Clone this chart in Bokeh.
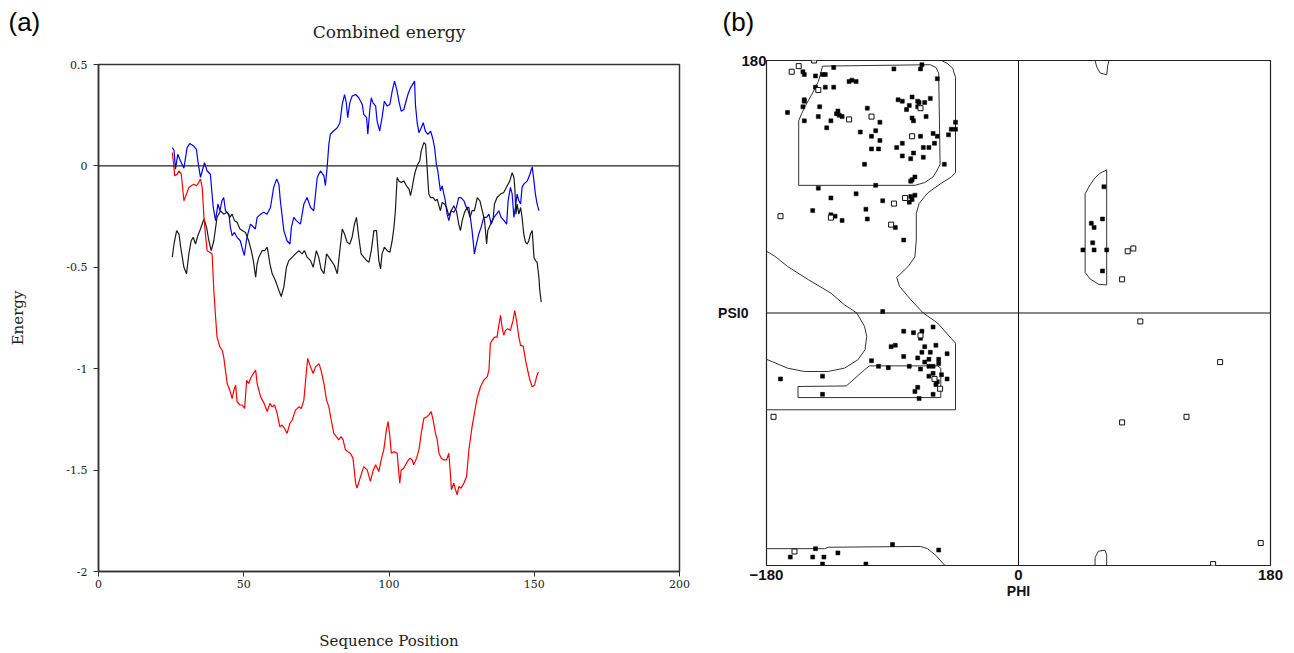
from bokeh.plotting import figure
from bokeh.models import Range1d, Span, Label, FixedTicker
from bokeh.layouts import row, column
from bokeh.embed import file_html
from bokeh.resources import INLINE

# ---------------- Panel (a): Combined energy ----------------
blue_pos = [25.4, 26.0, 26.5, 27.3, 28.2, 29.4, 30.5, 31.4, 32.8, 33.7, 34.2, 35.1, 35.7, 36.5, 37.4, 38.5,
            39.5, 40.3, 41.1, 41.8, 42.5, 43.1, 43.7, 44.9, 45.4, 46.0, 46.8, 47.7, 48.8, 49.4, 50.2, 50.9,
            51.4, 52.3, 52.9, 54.0, 54.6, 55.8, 56.9, 58.0, 59.2, 60.3, 61.3, 62.1, 62.6, 63.8, 64.9, 65.9,
            66.4, 67.2, 68.1, 69.5, 70.7, 71.8, 73.0, 74.1, 75.3, 76.4, 77.6, 78.1, 78.7, 79.3, 79.8, 80.9,
            82.2, 83.1, 83.9, 84.7, 85.3, 85.8, 86.5, 87.3, 88.5, 89.6, 90.8, 91.3, 92.3, 92.7, 93.4, 93.9,
            94.5, 95.4, 95.9, 96.8, 97.6, 98.4, 99.4, 100.3, 101.1, 101.9, 102.8, 103.4, 104.2, 105.1, 106.5,
            107.4, 108.8, 109.1, 109.7, 110.3, 111.1, 111.8, 112.5, 113.4, 114.3, 115.0, 115.7, 116.3, 116.8,
            117.7, 118.3, 118.9, 119.4, 120.0, 120.6, 121.4, 122.3, 123.2, 124.0, 124.8, 125.8, 126.6, 127.5,
            128.0, 128.6, 129.4, 130.1, 130.9, 131.7, 132.6, 133.6, 134.4, 135.2, 136.1, 137.0, 137.8, 138.6,
            139.6, 140.5, 141.0, 141.8, 142.4, 143.0, 143.5, 144.1, 144.7, 145.3, 145.8, 146.4, 147.6, 148.5,
            149.3, 149.9, 150.4, 151.0, 151.6]
blue_energy = [0.090, 0.077, -0.016, 0.057, 0.025, -0.011, 0.090, 0.110, 0.098, 0.082, 0.025, -0.057, -0.025,
               0.016, -0.025, -0.041, -0.205, -0.270, -0.188, -0.221, -0.172, -0.156, -0.221, -0.238, -0.303,
               -0.344, -0.328, -0.352, -0.369, -0.401, -0.442, -0.369, -0.336, -0.287, -0.295, -0.311, -0.254,
               -0.238, -0.229, -0.238, -0.205, -0.106, -0.065, -0.090, -0.172, -0.319, -0.369, -0.385, -0.303,
               -0.254, -0.270, -0.287, -0.188, -0.156, -0.205, -0.221, -0.057, -0.025, -0.049, -0.098, -0.008,
               0.106, 0.156, 0.172, 0.188, 0.213, 0.303, 0.352, 0.311, 0.238, 0.311, 0.344, 0.352, 0.336, 0.303,
               0.254, 0.238, 0.156, 0.278, 0.336, 0.311, 0.295, 0.221, 0.172, 0.238, 0.319, 0.295, 0.303, 0.369,
               0.418, 0.369, 0.319, 0.270, 0.278, 0.352, 0.385, 0.418, 0.303, 0.213, 0.164, 0.188, 0.213, 0.172,
               0.156, 0.172, 0.139, 0.090, 0.008, -0.025, -0.123, -0.098, -0.139, -0.172, -0.238, -0.270, -0.221,
               -0.229, -0.205, -0.156, -0.156, -0.172, -0.205, -0.205, -0.254, -0.319, -0.434, -0.385, -0.336,
               -0.303, -0.254, -0.254, -0.238, -0.287, -0.254, -0.238, -0.221, -0.254, -0.270, -0.287, -0.172,
               -0.106, -0.139, -0.254, -0.205, -0.139, -0.172, -0.188, -0.106, -0.090, -0.074, -0.041, -0.005,
               -0.074, -0.139, -0.188, -0.221]

black_pos = [25.4, 26.0, 26.9, 27.7, 28.3, 29.4, 30.3, 31.1, 31.9, 32.6, 33.4, 34.2, 35.1, 36.3, 37.2, 38.0,
             38.8, 39.7, 40.8, 42.0, 43.1, 44.3, 45.2, 46.0, 46.8, 47.7, 48.7, 49.5, 50.6, 51.7, 52.6, 53.3,
             54.1, 54.6, 55.2, 56.3, 57.2, 58.1, 59.0, 59.8, 60.9, 62.1, 62.9, 63.8, 64.7, 65.5, 66.7, 67.8,
             69.0, 70.1, 70.9, 71.8, 73.0, 73.9, 75.0, 75.8, 76.6, 77.6, 78.5, 79.3, 80.1, 81.2, 82.2, 82.7,
             83.9, 84.7, 85.6, 86.5, 87.3, 88.1, 88.8, 89.6, 90.4, 91.3, 92.3, 93.1, 93.9, 94.8, 95.7, 96.5,
             97.1, 97.6, 98.4, 99.4, 100.3, 101.1, 101.7, 102.2, 102.8, 103.4, 104.2, 105.1, 106.0, 106.9,
             107.4, 108.0, 108.6, 109.1, 109.9, 110.6, 111.1, 112.0, 112.6, 112.9, 113.4, 113.7, 114.3, 115.2,
             116.0, 116.6, 117.2, 117.7, 118.3, 119.1, 119.8, 120.6, 121.4, 122.3, 123.2, 124.0, 124.6, 125.2,
             126.0, 126.9, 127.9, 128.6, 129.4, 130.4, 131.3, 132.1, 132.9, 133.6, 134.0, 135.0, 135.9, 136.3,
             137.2, 138.4, 139.5, 140.7, 141.6, 142.4, 143.0, 143.3, 143.7, 144.1, 144.7, 145.3, 145.8, 146.4,
             147.0, 147.6, 148.1, 148.7, 149.3, 149.9, 150.4, 151.0, 151.6, 151.9, 152.4]
black_energy = [-0.450, -0.385, -0.319, -0.336, -0.401, -0.500, -0.532, -0.434, -0.369, -0.352, -0.385, -0.344,
                -0.311, -0.262, -0.303, -0.369, -0.418, -0.369, -0.254, -0.221, -0.238, -0.229, -0.254, -0.238,
                -0.270, -0.278, -0.311, -0.319, -0.328, -0.369, -0.418, -0.467, -0.549, -0.483, -0.450, -0.418,
                -0.418, -0.401, -0.483, -0.532, -0.565, -0.614, -0.644, -0.598, -0.500, -0.467, -0.450, -0.434,
                -0.418, -0.434, -0.418, -0.450, -0.467, -0.500, -0.418, -0.450, -0.508, -0.532, -0.434, -0.450,
                -0.467, -0.491, -0.532, -0.467, -0.311, -0.336, -0.377, -0.385, -0.352, -0.287, -0.254, -0.352,
                -0.434, -0.450, -0.467, -0.475, -0.418, -0.319, -0.319, -0.467, -0.508, -0.434, -0.401, -0.418,
                -0.426, -0.369, -0.303, -0.221, -0.057, -0.074, -0.082, -0.074, -0.098, -0.115, -0.147, -0.106,
                -0.057, -0.025, 0.008, 0.025, 0.074, 0.115, 0.106, 0.041, -0.074, -0.139, -0.156, -0.156, -0.172,
                -0.164, -0.197, -0.221, -0.180, -0.188, -0.205, -0.246, -0.221, -0.197, -0.221, -0.287, -0.319,
                -0.270, -0.229, -0.205, -0.254, -0.221, -0.221, -0.156, -0.172, -0.221, -0.270, -0.385, -0.319,
                -0.287, -0.254, -0.188, -0.156, -0.139, -0.131, -0.098, -0.074, -0.033, -0.057, -0.106, -0.238,
                -0.188, -0.238, -0.205, -0.254, -0.336, -0.377, -0.385, -0.369, -0.336, -0.319, -0.450, -0.467,
                -0.475, -0.549, -0.614, -0.672]

red_pos = [25.4, 26.0, 26.2, 27.1, 27.7, 28.5, 29.4, 30.3, 31.1, 31.9, 32.8, 33.7, 34.5, 35.1, 35.7, 36.3,
           36.8, 37.4, 38.3, 39.1, 39.7, 40.3, 40.8, 41.8, 42.6, 43.1, 43.7, 44.3, 45.2, 46.0, 46.6, 47.2,
           47.7, 48.7, 49.5, 50.3, 51.0, 51.7, 52.3, 53.3, 54.1, 54.6, 55.8, 57.0, 58.1, 59.0, 59.8, 60.6,
           61.5, 62.4, 63.2, 64.0, 64.9, 65.9, 66.7, 67.8, 69.0, 69.8, 70.7, 71.3, 72.0, 73.0, 73.9, 74.7,
           75.9, 76.6, 77.6, 78.5, 79.3, 80.1, 81.0, 81.9, 82.7, 83.5, 84.2, 85.0, 85.8, 86.7, 87.6, 88.5,
           89.0, 90.2, 91.3, 92.5, 93.6, 94.6, 95.4, 96.5, 97.3, 98.2, 99.1, 99.7, 100.3, 100.8, 101.7, 102.8,
           103.7, 104.2, 105.1, 106.3, 107.2, 108.0, 108.5, 109.5, 110.3, 111.1, 112.0, 113.0, 113.7, 114.5,
           115.2, 116.0, 116.6, 117.2, 118.0, 118.9, 119.8, 120.6, 121.2, 121.5, 122.3, 122.9, 123.5, 124.0,
           124.8, 125.8, 126.7, 127.5, 128.6, 129.4, 130.3, 131.5, 132.6, 133.8, 134.4, 134.9, 135.5, 136.3,
           137.2, 137.8, 138.4, 138.9, 139.5, 140.1, 140.9, 141.8, 142.7, 143.3, 143.9, 144.7, 145.3, 146.2,
           147.0, 147.6, 148.5, 149.3, 150.1, 150.8, 151.4]
red_energy = [0.066, -0.008, -0.049, -0.041, -0.025, -0.041, -0.172, -0.139, -0.106, -0.098, -0.090, -0.098,
              -0.082, -0.065, -0.106, -0.254, -0.336, -0.418, -0.426, -0.434, -0.614, -0.745, -0.844, -0.893,
              -0.909, -0.942, -1.007, -1.073, -1.106, -1.147, -1.106, -1.081, -1.163, -1.179, -1.179, -1.196,
              -1.057, -1.073, -1.048, -1.024, -1.007, -1.073, -1.139, -1.171, -1.212, -1.171, -1.188, -1.179,
              -1.220, -1.286, -1.278, -1.294, -1.319, -1.269, -1.253, -1.204, -1.188, -1.196, -1.155, -1.057,
              -0.950, -0.991, -1.024, -0.991, -0.975, -1.007, -1.073, -1.155, -1.188, -1.253, -1.319, -1.335,
              -1.351, -1.335, -1.351, -1.400, -1.409, -1.417, -1.441, -1.564, -1.589, -1.532, -1.483, -1.499,
              -1.556, -1.499, -1.474, -1.507, -1.450, -1.400, -1.302, -1.261, -1.335, -1.417, -1.409, -1.417,
              -1.564, -1.499, -1.491, -1.458, -1.441, -1.450, -1.474, -1.441, -1.400, -1.319, -1.245, -1.237,
              -1.229, -1.212, -1.253, -1.319, -1.351, -1.417, -1.441, -1.450, -1.450, -1.417, -1.532, -1.597,
              -1.564, -1.597, -1.622, -1.581, -1.589, -1.564, -1.532, -1.400, -1.286, -1.220, -1.147, -1.089,
              -1.057, -1.040, -1.007, -0.876, -0.860, -0.844, -0.844, -0.786, -0.737, -0.794, -0.835, -0.811,
              -0.803, -0.811, -0.762, -0.713, -0.762, -0.844, -0.885, -0.889, -0.958, -0.999, -1.057, -1.089,
              -1.081, -1.040, -1.016]

seq_ticks = [0, 50, 100, 150, 200]
energy_ticks = [0.5, 0, -0.5, -1, -1.5, -2]
energy_tick_labels = ["0.5", "0", "-0.5", "-1", "-1.5", "-2"]

# ---------------- Panel (b): Ramachandran plot ----------------
filled_phi = [-154, -153, -145, -140, -138, -132, -89, -69, -70, -58, -145, -138, -132, -121, -119, -116,
              -153, -153, -154, -165, -142, -153, -143, -134, -130, -129, -128, -126, -137, -108, -99, -102,
              -113, -105, -99, -105, -100, -86, -83, -76, -72, -71, -67, -63, -78, -80, -72, -66, -76, -75,
              -70, -61, -58, -50, -48, -45, -45, -87, -83, -68, -64, -60, -83, -75, -77, -68, -110, -53, -74,
              -76, -77, -102, -143, -134, -116, -97, -77, -76, -74, -78, -109, -147, -134, -131, -126, -108,
              -88, -82, -97,
              -61, -82, -75, -69, -70, -91, -88, -67, -59, -69, -63, -82, -72, -64, -67, -57, -57, -51, -105,
              -100, -93, -78, -70, -64, -61, -55, -61, -64, -58, -59, -51, -170, -140, -72, -74, -140, -71, -61,
              -145, -163, -147, -139, -129, -90, -57, -140, -109,
              61, 60, 52, 54, 53, 46, 54, 63, 60]
filled_psi = [172, 170, 169, 170, 170, 175, 174, 177, 174, 167, 161, 161, 161, 165, 166, 165,
              152, 151, 147, 143, 147, 137, 140, 137, 142, 144, 141, 140, 132, 146, 136, 130,
              129, 126, 123, 117, 117, 152, 151, 154, 151, 150, 150, 153, 148, 145, 147, 140, 139, 137,
              126, 128, 126, 127, 131, 131, 136, 118, 121, 118, 118, 121, 112, 114, 110, 111, 106, 106, 97,
              95, 94, 91, 89, 82, 85, 80, 83, 81, 84, 79, 74, 73, 70, 69, 66, 67,
              61, 52, 1,
              -10, -13, -14, -13, -18, -24, -23, -24, -23, -28, -28, -31, -32, -33, -35, -33, -36, -29, -34,
              -38, -39, -38, -40, -38, -38, -44, -43, -45, -49, -51, -47, -47, -45, -53, -56, -58, -61, -58,
              -168, -174, -174, -174, -171, -165, -169, -179, -179,
              90, 67, 64, 61, 50, 45, 45, 45, 30]
open_phi = [-162, -157, -146, -143, -121, -105, -76, -70, -81, -89, -170, -134, -91, -70, -60, -56, -175,
            -160, 78, 82, 74, 87, 144, 120, 74, 173, 139]
open_psi = [172, 176, 180, 159, 138, 140, 126, 146, 82, 78, 69, 68, 63, -16, -47, -54, -74,
            -170, 44, 46, 24, -6, -35, -74, -78, -164, -179]

# region boundaries (phi, psi)
core_beta_phi = [-140, -63, -59, -57, -56, -58, -61, -67, -74, -157, -157, -155, -152, -147, -143, -141, -140]
core_beta_psi = [176, 177, 175, 171, 106, 102, 97, 93, 91, 91, 137, 142, 148, 157, 165, 172, 176]
allowed_right_phi = [-55, -51, -47, -45, -45, -48, -55, -65, -71, -73, -73, -74, -79, -87, -85, -77, -68,
                     -58, -45, -45, -180]
allowed_right_psi = [180, 178, 174.5, 168, 100, 97, 92.6, 85.5, 78, 71, 52, 40, 33, 25.4, 19, 9.5, 0,
                     -7, -21.5, -69, -69]
allowed_left_phi = [-180, -174, -165, -150, -134, -124.5, -115.5, -110, -108.4, -109.6, -114.8, -124.3, -136,
                    -153, -165, -180]
allowed_left_psi = [44, 40.4, 33.2, 23.7, 14.2, 6, 0, -9.5, -16.7, -26.2, -33.4, -39.3, -41.7, -41.7, -39.3,
                    -33]
core_alpha_phi = [-157.5, -157.5, -55.5, -55.5, -57.8, -106.5, -110, -123, -157.5]
core_alpha_psi = [-52.4, -60.3, -60.3, -39.3, -37.7, -37.7, -40.5, -52, -52.4]
allowed_bottom_phi = [-180, -138.5, -136, -70, -65, -59, -52.6]
allowed_bottom_psi = [-168, -168, -167, -166.4, -168, -172.8, -180]
core_left_phi = [63, 58.3, 54.7, 51.1, 47.6, 47.6, 51.1, 57.1, 63, 63]
core_left_psi = [102, 99.7, 96.4, 91.3, 85, 28.9, 24.3, 20.5, 20, 102]
top_right_phi = [54.7, 55.9, 58.3, 63, 63.7, 64.7]
top_right_psi = [180, 175.4, 171.1, 169.8, 176.2, 180]
bottom_right_phi = [54.7, 54.7, 57.1, 61.8, 63, 63]
bottom_right_psi = [-180, -174.4, -169.8, -169.1, -172.4, -180]

angle_ticks = [-180, 0, 180]
panel_tags = ["(a)", "(b)"]

SERIF = "DejaVu Serif"
SANS = "Liberation Sans"

# ---------------- figure (a) ----------------
pa = figure(width=708, height=653, output_backend="svg", toolbar_location=None,
            x_range=Range1d(0, 200), y_range=Range1d(-2, 0.5), frame_align=False,
            min_border_left=98, min_border_right=29, min_border_top=63, min_border_bottom=82,
            title="Combined energy")
pa.title.align = "center"
pa.title.vertical_align = "top"
pa.title.text_font = SERIF
pa.title.text_font_size = "17px"
pa.title.text_font_style = "normal"
pa.title.text_color = "#222222"
pa.title.standoff = 42
pa.grid.visible = False
pa.outline_line_color = "#333333"
pa.outline_line_width = 1.5

pa.xaxis.ticker = FixedTicker(ticks=seq_ticks)
pa.yaxis.ticker = FixedTicker(ticks=energy_ticks)
pa.yaxis.major_label_overrides = {t: l for t, l in zip(energy_ticks, energy_tick_labels)}
for ax in (pa.xaxis, pa.yaxis):
    ax.minor_tick_line_color = None
    ax.major_tick_in = 0
    ax.major_tick_out = 5
    ax.major_tick_line_color = "#333333"
    ax.axis_line_color = "#333333"
    ax.axis_line_width = 1.5
    ax.major_label_text_font = SERIF
    ax.major_label_text_font_size = "11px"
    ax.major_label_text_color = "#222222"
    ax.axis_label_text_font = SERIF
    ax.axis_label_text_font_size = "15px"
    ax.axis_label_text_font_style = "normal"
    ax.axis_label_text_color = "#222222"
pa.xaxis.axis_label = "Sequence Position"
pa.yaxis.axis_label = "Energy"
pa.xaxis.major_label_standoff = 3
pa.yaxis.major_label_standoff = 6
pa.xaxis.axis_label_standoff = 41
pa.yaxis.axis_label_standoff = 36

pa.add_layout(Span(location=0, dimension="width", line_color="#222222", line_width=1.3))
pa.line(blue_pos, blue_energy, line_color="#0000ff", line_width=1.2)
pa.line(black_pos, black_energy, line_color="#1a1a1a", line_width=1.2)
pa.line(red_pos, red_energy, line_color="#ff0000", line_width=1.2)

# ---------------- figure (b) ----------------
pb = figure(width=586, height=653, output_backend="svg", toolbar_location=None,
            x_range=Range1d(-180, 180), y_range=Range1d(-180, 180), frame_align=False,
            min_border_left=58, min_border_right=24, min_border_top=60, min_border_bottom=88)
pb.grid.visible = False
pb.outline_line_color = "#222222"
pb.outline_line_width = 1.2
pb.xaxis.ticker = FixedTicker(ticks=angle_ticks)
pb.xaxis.major_label_overrides = {-180: "\u2212180", 0: "0", 180: "180"}
pb.yaxis.ticker = FixedTicker(ticks=[180])
pb.yaxis.major_label_overrides = {180: "180"}
for ax in (pb.xaxis, pb.yaxis):
    ax.minor_tick_line_color = None
    ax.major_tick_line_color = None
    ax.major_tick_in = 0
    ax.major_tick_out = 0
    ax.axis_line_color = None
    ax.major_label_text_font = SANS
    ax.major_label_text_font_style = "bold"
    ax.major_label_text_font_size = "15px"
    ax.major_label_text_color = "#111111"
    ax.axis_label_text_font = SANS
    ax.axis_label_text_font_style = "bold"
    ax.axis_label_text_font_size = "14px"
    ax.axis_label_text_color = "#111111"
pb.yaxis.major_label_standoff = 0
pb.yaxis.axis_label = "PSI0"
pb.yaxis.axis_label_orientation = "horizontal"
pb.yaxis.axis_label_standoff = -10
pb.xaxis.major_label_standoff = 4
pb.xaxis.axis_label = "PHI"
pb.xaxis.axis_label_standoff = 0

pb.add_layout(Span(location=0, dimension="width", line_color="#111111", line_width=1))
pb.add_layout(Span(location=0, dimension="height", line_color="#111111", line_width=1))

for xs, ys in [(core_beta_phi, core_beta_psi), (allowed_right_phi, allowed_right_psi),
               (allowed_left_phi, allowed_left_psi), (core_alpha_phi, core_alpha_psi),
               (allowed_bottom_phi, allowed_bottom_psi), (core_left_phi, core_left_psi),
               (top_right_phi, top_right_psi), (bottom_right_phi, bottom_right_psi)]:
    pb.line(xs, ys, line_color="#333333", line_width=1)

pb.scatter(filled_phi, filled_psi, marker="square", size=4, fill_color="#000000", line_color="#000000",
           line_width=0.5)
pb.scatter(open_phi, open_psi, marker="square", size=5, fill_color="white", line_color="#111111",
           line_width=1)

# ---------------- panel tags "(a)" / "(b)": transparent overlay strip ----------------
tags = figure(width=1294, height=44, output_backend="svg", toolbar_location=None,
              x_range=Range1d(0, 1294), y_range=Range1d(0, 44), frame_align=False, min_border=0,
              x_axis_location=None, y_axis_location=None, outline_line_color=None,
              background_fill_alpha=0, border_fill_alpha=0)
tags.grid.visible = False
tags.margin = (-653, 0, 0, 0)
for txt, xpos in zip(panel_tags, [8, 722]):
    tags.add_layout(Label(x=xpos, y=38, text=txt, text_baseline="top", text_align="left",
                          text_font=SANS, text_font_size="26px", text_color="#000000"))

layout = column(row(pa, pb), tags)
open("out.html", "w").write(file_html(layout, INLINE))
